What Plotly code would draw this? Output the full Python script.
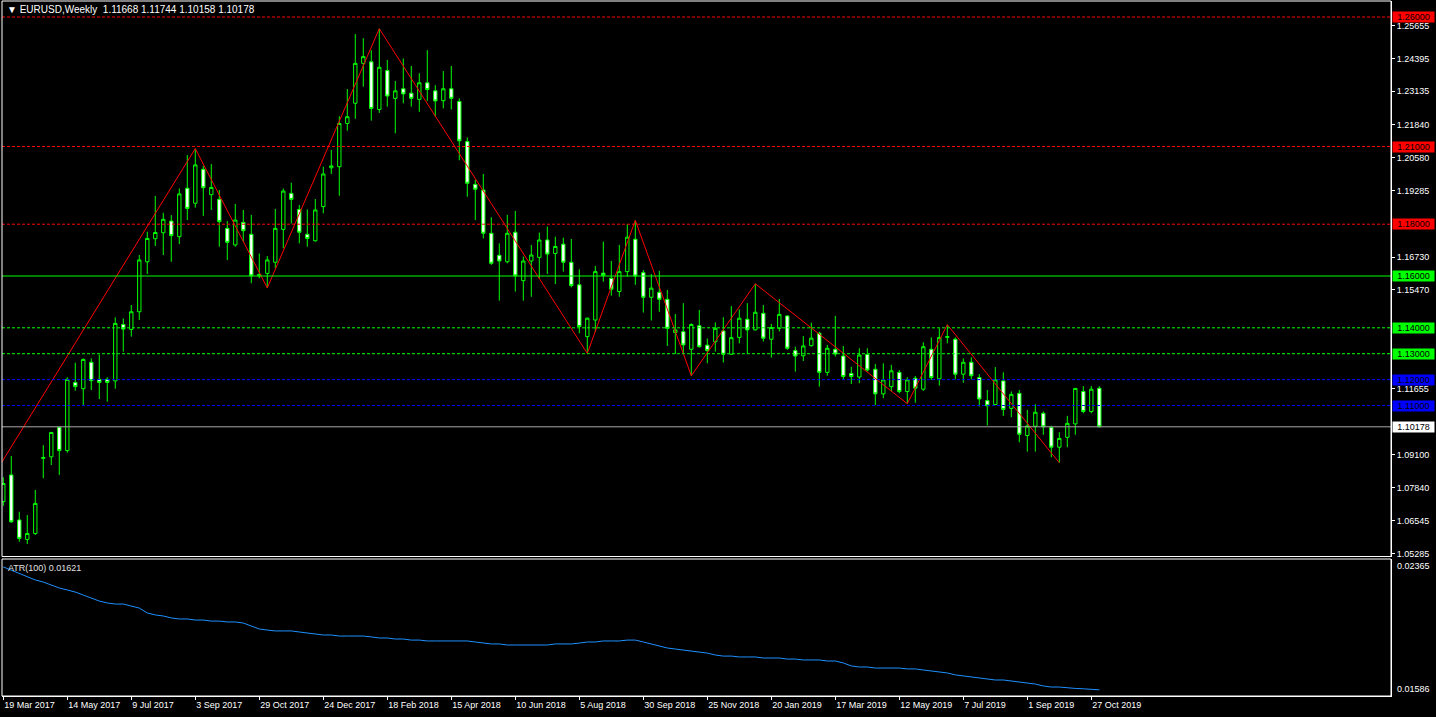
import plotly.graph_objects as go

# ---------------- data (EURUSD weekly) ----------------
opens = [
    1.0729, 1.0832, 1.0658, 1.0583, 1.0606, 1.0896, 1.0902, 1.1016, 1.0926, 1.1189,
    1.1165, 1.1267, 1.1201, 1.1201, 1.1195, 1.1413, 1.1394, 1.1462, 1.1655, 1.1744,
    1.1767, 1.1812, 1.1752, 1.1939, 1.1881, 1.2012, 1.1914, 1.1896, 1.1784, 1.1720,
    1.1807, 1.1761, 1.1601, 1.1610, 1.1653, 1.1780, 1.1919, 1.1857, 1.1761, 1.1736,
    1.1868, 1.2018, 1.2022, 1.2189, 1.2267, 1.2421, 1.2427, 1.2243, 1.2393, 1.2286,
    1.2323, 1.2306, 1.2282, 1.2346, 1.2315, 1.2277, 1.2323, 1.2274, 1.2119, 1.1954,
    1.1932, 1.1765, 1.1680, 1.1655, 1.1769, 1.1582, 1.1658, 1.1672, 1.1739, 1.1687,
    1.1723, 1.1653, 1.1566, 1.1366, 1.1430, 1.1611, 1.1591, 1.1540, 1.1617, 1.1742,
    1.1613, 1.1518, 1.1537, 1.1510, 1.1382, 1.1385, 1.1317, 1.1408, 1.1333, 1.1346,
    1.1388, 1.1298, 1.1363, 1.1433, 1.1392, 1.1456, 1.1356, 1.1398, 1.1446, 1.1312,
    1.1292, 1.1331, 1.1379, 1.1228, 1.1317, 1.1291, 1.1224, 1.1210, 1.1297, 1.1240,
    1.1145, 1.1173, 1.1228, 1.1154, 1.1205, 1.1163, 1.1317, 1.1203, 1.1363, 1.1356,
    1.1221, 1.1267, 1.1208, 1.1119, 1.1104, 1.1195, 1.1089, 1.1147, 1.0984, 1.1020,
    1.1070, 1.1015, 1.0939, 1.0977, 1.1029, 1.1154, 1.1077, 1.11668]

highs = [
    1.0823, 1.0905, 1.0690, 1.0677, 1.0774, 1.0947, 1.0998, 1.1018, 1.1209, 1.1265,
    1.1282, 1.1282, 1.1297, 1.1209, 1.1440, 1.1436, 1.1488, 1.1681, 1.1771, 1.1909,
    1.1844, 1.1835, 1.1938, 1.2067, 1.2092, 1.2025, 1.2032, 1.1932, 1.1812, 1.1878,
    1.1855, 1.1836, 1.1687, 1.1677, 1.1859, 1.1938, 1.1960, 1.1874, 1.1857, 1.1897,
    1.2022, 1.2087, 1.2217, 1.2322, 1.2534, 1.2518, 1.2472, 1.2555, 1.2434, 1.2353,
    1.2440, 1.2411, 1.2383, 1.2472, 1.2337, 1.2391, 1.2411, 1.2286, 1.2135, 1.1971,
    1.1994, 1.1827, 1.1726, 1.1836, 1.1851, 1.1675, 1.1720, 1.1768, 1.1791, 1.1752,
    1.1748, 1.1743, 1.1626, 1.1440, 1.1639, 1.1733, 1.1658, 1.1720, 1.1801, 1.1815,
    1.1623, 1.1608, 1.1620, 1.1546, 1.1453, 1.1495, 1.1417, 1.1469, 1.1359, 1.1421,
    1.1441, 1.1484, 1.1471, 1.1495, 1.1570, 1.1488, 1.1415, 1.1511, 1.1448, 1.1327,
    1.1368, 1.1420, 1.1385, 1.1334, 1.1446, 1.1330, 1.1250, 1.1321, 1.1321, 1.1260,
    1.1263, 1.1257, 1.1237, 1.1209, 1.1214, 1.1344, 1.1363, 1.1398, 1.1412, 1.1363,
    1.1282, 1.1286, 1.1221, 1.1160, 1.1248, 1.1228, 1.1154, 1.1160, 1.1083, 1.1105,
    1.1077, 1.1022, 1.0997, 1.1060, 1.1168, 1.1175, 1.1175, 1.11744]

lows = [
    1.0713, 1.0647, 1.0574, 1.0565, 1.0600, 1.0819, 1.0870, 1.0832, 1.0918, 1.1157,
    1.1102, 1.1160, 1.1125, 1.1115, 1.1165, 1.1308, 1.1366, 1.1430, 1.1608, 1.1716,
    1.1681, 1.1655, 1.1723, 1.1816, 1.1864, 1.1832, 1.1855, 1.1713, 1.1662, 1.1713,
    1.1733, 1.1572, 1.1591, 1.1554, 1.1630, 1.1707, 1.1803, 1.1726, 1.1713, 1.1733,
    1.1842, 1.1994, 1.1910, 1.2161, 1.2207, 1.2331, 1.2200, 1.2230, 1.2254, 1.2151,
    1.2267, 1.2254, 1.2234, 1.2276, 1.2215, 1.2247, 1.2243, 1.2047, 1.1906, 1.1816,
    1.1745, 1.1643, 1.1505, 1.1649, 1.1540, 1.1505, 1.1520, 1.1591, 1.1608, 1.1569,
    1.1617, 1.1556, 1.1379, 1.1301, 1.1385, 1.1578, 1.1524, 1.1520, 1.1598, 1.1566,
    1.1459, 1.1428, 1.1462, 1.1330, 1.1299, 1.1299, 1.1215, 1.1324, 1.1263, 1.1308,
    1.1266, 1.1295, 1.1340, 1.1299, 1.1390, 1.1347, 1.1285, 1.1386, 1.1315, 1.1231,
    1.1272, 1.1328, 1.1173, 1.1215, 1.1289, 1.1199, 1.1183, 1.1186, 1.1231, 1.1102,
    1.1128, 1.1154, 1.1147, 1.1107, 1.1111, 1.1157, 1.1199, 1.1177, 1.1340, 1.1201,
    1.1188, 1.1201, 1.1096, 1.1023, 1.1101, 1.1060, 1.1055, 1.0958, 1.0922, 1.0922,
    1.0987, 1.0900, 1.0879, 1.0939, 1.0987, 1.1070, 1.1070, 1.10158]

closes = [
    1.0799, 1.0651, 1.0587, 1.0606, 1.0722, 1.0899, 1.0996, 1.0926, 1.1201, 1.1173,
    1.1278, 1.1196, 1.1189, 1.1189, 1.1417, 1.1395, 1.1462, 1.1662, 1.1745, 1.1768,
    1.1819, 1.1756, 1.1917, 1.1861, 1.2029, 1.1941, 1.1942, 1.1810, 1.1730, 1.1816,
    1.1775, 1.1601, 1.1606, 1.1662, 1.1784, 1.1928, 1.1896, 1.1769, 1.1745, 1.1855,
    1.1994, 1.2025, 1.2189, 1.2215, 1.2421, 1.2447, 1.2247, 1.2406, 1.2295, 1.2315,
    1.2303, 1.2286, 1.2346, 1.2320, 1.2276, 1.2323, 1.2286, 1.2122, 1.1958, 1.1935,
    1.1765, 1.1649, 1.1658, 1.1765, 1.1601, 1.1658, 1.1681, 1.1739, 1.1685, 1.1714,
    1.1653, 1.1563, 1.1405, 1.1437, 1.1617, 1.1602, 1.1549, 1.1617, 1.1750, 1.1600,
    1.1518, 1.1553, 1.1510, 1.1398, 1.1392, 1.1334, 1.1413, 1.1327, 1.1312, 1.1398,
    1.1298, 1.1362, 1.1437, 1.1392, 1.1460, 1.1360, 1.1401, 1.1452, 1.1321, 1.1291,
    1.1330, 1.1360, 1.1228, 1.1321, 1.1299, 1.1212, 1.1212, 1.1295, 1.1237, 1.1145,
    1.1199, 1.1234, 1.1154, 1.1199, 1.1167, 1.1327, 1.1208, 1.1363, 1.1366, 1.1221,
    1.1267, 1.1215, 1.1125, 1.1099, 1.1199, 1.1085, 1.1143, 1.0989, 1.1021, 1.1074,
    1.1018, 1.0939, 1.0973, 1.1031, 1.1166, 1.1077, 1.1163, 1.10178]

atr = [
    0.02320, 0.02302, 0.02280, 0.02263, 0.02246, 0.02234, 0.02217, 0.02200, 0.02189, 0.02177,
    0.02160, 0.02143, 0.02126, 0.02115, 0.02109, 0.02109, 0.02098, 0.02086, 0.02058, 0.02047,
    0.02041, 0.02030, 0.02024, 0.02024, 0.02018, 0.02018, 0.02012, 0.02012, 0.02007, 0.02007,
    0.02001, 0.01984, 0.01967, 0.01961, 0.01956, 0.01956, 0.01956, 0.01950, 0.01944, 0.01939,
    0.01933, 0.01933, 0.01927, 0.01927, 0.01927, 0.01927, 0.01922, 0.01916, 0.01916, 0.01910,
    0.01910, 0.01904, 0.01904, 0.01899, 0.01899, 0.01899, 0.01899, 0.01899, 0.01899, 0.01893,
    0.01887, 0.01882, 0.01882, 0.01876, 0.01876, 0.01876, 0.01876, 0.01876, 0.01876, 0.01882,
    0.01882, 0.01882, 0.01887, 0.01893, 0.01893, 0.01899, 0.01899, 0.01899, 0.01904, 0.01904,
    0.01893, 0.01882, 0.01870, 0.01859, 0.01853, 0.01848, 0.01842, 0.01836, 0.01830, 0.01819,
    0.01813, 0.01813, 0.01808, 0.01808, 0.01808, 0.01802, 0.01802, 0.01802, 0.01796, 0.01796,
    0.01791, 0.01791, 0.01791, 0.01785, 0.01785, 0.01774, 0.01757, 0.01751, 0.01751, 0.01745,
    0.01745, 0.01745, 0.01745, 0.01740, 0.01740, 0.01734, 0.01728, 0.01723, 0.01717, 0.01706,
    0.01700, 0.01694, 0.01688, 0.01683, 0.01677, 0.01677, 0.01671, 0.01666, 0.01660, 0.01654,
    0.01643, 0.01637, 0.01637, 0.01631, 0.01629, 0.01627, 0.01624, 0.01621]

# zigzag pivots: bar index (0 = week of 19 Mar 2017) and price
zz_bars = [-11, 24, 33, 47, 73, 79, 86, 94, 113, 118, 132]
zz_prices = [1.0340, 1.2092, 1.1554, 1.2555, 1.1301, 1.1815, 1.1215, 1.1570, 1.1107, 1.1412, 1.0879]

date_labels = ["19 Mar 2017", "14 May 2017", "9 Jul 2017", "3 Sep 2017", "29 Oct 2017",
               "24 Dec 2017", "18 Feb 2018", "15 Apr 2018", "10 Jun 2018", "5 Aug 2018",
               "30 Sep 2018", "25 Nov 2018", "20 Jan 2019", "17 Mar 2019", "12 May 2019",
               "7 Jul 2019", "1 Sep 2019", "27 Oct 2019"]
label_every = 8

price_ticks = [1.25655, 1.24395, 1.23135, 1.21840, 1.20580, 1.19285, 1.16730,
               1.15470, 1.11655, 1.09100, 1.07840, 1.06545, 1.05285]

levels = [1.26, 1.21, 1.18, 1.16, 1.14, 1.13, 1.12, 1.11]
level_colors = ["#FF0000", "#FF0000", "#FF0000", "#00FF00", "#00FF00", "#00FF00", "#0000FF", "#0000FF"]
level_solid = [False, False, False, True, False, False, False, False]

last_price = 1.10178
atr_scale_max = 0.02365
atr_scale_min = 0.01586
header = "EURUSD,Weekly  1.11668 1.11744 1.10158 1.10178"
atr_title = "ATR(100) 0.01621"

assert len(opens) == len(highs) == len(lows) == len(closes) == len(atr) == 138

# ---------------- figure ----------------
FONT = "Liberation Sans"
bars = list(range(len(opens)))

fig = go.Figure()
fig.add_trace(go.Candlestick(
    x=bars, open=opens, high=highs, low=lows, close=closes,
    increasing=dict(line=dict(color="#00FF00", width=1), fillcolor="#000000"),
    decreasing=dict(line=dict(color="#00FF00", width=1), fillcolor="#FFFFFF"),
    whiskerwidth=0, xaxis="x", yaxis="y", showlegend=False, hoverinfo="skip"))

fig.add_trace(go.Scatter(
    x=zz_bars, y=zz_prices, mode="lines", line=dict(color="#FF0000", width=1),
    xaxis="x", yaxis="y", showlegend=False, hoverinfo="skip"))

fig.add_trace(go.Scatter(
    x=bars, y=atr, mode="lines", line=dict(color="#1E90FF", width=1),
    xaxis="x2", yaxis="y2", showlegend=False, hoverinfo="skip"))

main_bottom = 0.2007
atr_top = 0.1971
xrange = [-0.16, 173.46]

shapes = []
for lv, col, solid in zip(levels, level_colors, level_solid):
    shapes.append(dict(type="line", xref="paper", x0=0, x1=1, yref="y", y0=lv, y1=lv,
                       line=dict(color=col, width=1, dash="solid" if solid else "3px,2px")))
shapes.append(dict(type="line", xref="paper", x0=0, x1=1, yref="y", y0=last_price, y1=last_price,
                   line=dict(color="#A8A8A8", width=1)))
# panel frames
shapes.append(dict(type="rect", xref="paper", yref="paper", x0=0, x1=1, y0=main_bottom, y1=1,
                   line=dict(color="#FFFFFF", width=1)))
shapes.append(dict(type="rect", xref="paper", yref="paper", x0=0, x1=1, y0=0, y1=atr_top,
                   line=dict(color="#FFFFFF", width=1)))

annotations = []
for lv, col in zip(levels, level_colors):
    annotations.append(dict(xref="paper", x=1, xanchor="left", xshift=1, yref="y", y=lv,
                            yanchor="middle", text="%.5f" % lv, showarrow=False,
                            bgcolor=col, borderpad=0, width=41, align="center",
                            font=dict(family=FONT, size=9, color="#000000")))
annotations.append(dict(xref="paper", x=1, xanchor="left", xshift=1, yref="y", y=last_price,
                        yanchor="middle", text="%.5f" % last_price, showarrow=False,
                        bgcolor="#FFFFFF", borderpad=0, width=41, align="center",
                        font=dict(family=FONT, size=9, color="#000000")))
annotations.append(dict(xref="paper", x=1, xanchor="left", xshift=4, yref="y2", y=atr_scale_max,
                        yanchor="top", text="%.5f" % atr_scale_max, showarrow=False,
                        font=dict(family=FONT, size=9, color="#FFFFFF")))
annotations.append(dict(xref="paper", x=1, xanchor="left", xshift=4, yref="y2", y=atr_scale_min,
                        yanchor="bottom", text="%.5f" % atr_scale_min, showarrow=False,
                        font=dict(family=FONT, size=9, color="#FFFFFF")))
annotations.append(dict(xref="paper", x=0, xanchor="left", xshift=3, yref="paper", y=1,
                        yanchor="top", yshift=-1, text="\u25BC " + header.replace("  ", "&nbsp;&nbsp;"),
                        showarrow=False, font=dict(family=FONT, size=10, color="#FFFFFF")))
annotations.append(dict(xref="paper", x=0, xanchor="left", xshift=4, yref="paper", y=atr_top,
                        yanchor="top", yshift=-2, text=atr_title, showarrow=False,
                        font=dict(family=FONT, size=9, color="#E0E0E0")))

axis_font = dict(family=FONT, size=9, color="#FFFFFF")

fig.update_layout(
    width=1436, height=717,
    paper_bgcolor="#000000", plot_bgcolor="#000000",
    margin=dict(l=2, r=45, t=1, b=21, autoexpand=False),
    showlegend=False, boxgap=0.4,
    shapes=shapes, annotations=annotations,
    xaxis=dict(domain=[0, 1], anchor="y", range=xrange, showticklabels=False, ticks="",
               showgrid=False, zeroline=False, showline=False,
               rangeslider=dict(visible=False)),
    yaxis=dict(domain=[main_bottom, 1], anchor="x", side="right", automargin=False,
               range=[1.05170, 1.26618], tickvals=price_ticks, tickformat=".5f",
               ticks="outside", ticklen=3, tickcolor="#FFFFFF", tickfont=axis_font,
               showgrid=False, zeroline=False, showline=True, linecolor="#FFFFFF", linewidth=1),
    xaxis2=dict(domain=[0, 1], anchor="y2", range=xrange, automargin=False,
                tickvals=[i * label_every for i in range(len(date_labels))], ticktext=date_labels,
                ticks="outside", ticklen=3, tickcolor="#FFFFFF", tickfont=axis_font,
                ticklabelposition="outside right",
                showgrid=False, zeroline=False, showline=True, linecolor="#FFFFFF", linewidth=1),
    yaxis2=dict(domain=[0, atr_top], anchor="x2", side="right", automargin=False,
                range=[atr_scale_min, atr_scale_max], showticklabels=False, ticks="",
                showgrid=False, zeroline=False, showline=True, linecolor="#FFFFFF", linewidth=1),
)

fig.write_html("out.html",
               config={"displayModeBar": False},
               post_script="document.body.style.margin='0';document.body.style.overflow='hidden';document.body.style.background='#000';")
